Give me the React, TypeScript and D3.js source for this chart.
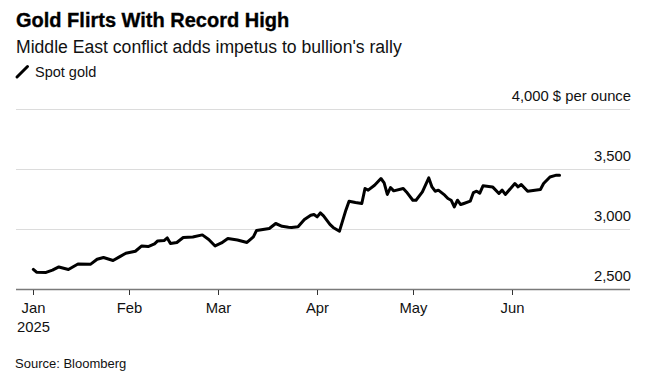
import React from "react";
import * as d3 from "d3";

const dates: string[] = [
  "2025-01-02","2025-01-03","2025-01-06","2025-01-08","2025-01-10","2025-01-13","2025-01-16","2025-01-20","2025-01-22","2025-01-24","2025-01-27","2025-01-29","2025-01-31",
  "2025-02-03","2025-02-05","2025-02-07","2025-02-09","2025-02-10","2025-02-12","2025-02-13","2025-02-14","2025-02-16","2025-02-18","2025-02-21","2025-02-24","2025-02-26","2025-02-28",
  "2025-03-02","2025-03-04","2025-03-07","2025-03-10","2025-03-12","2025-03-13","2025-03-15","2025-03-17","2025-03-19","2025-03-21","2025-03-23","2025-03-24","2025-03-26","2025-03-28","2025-03-30","2025-03-31",
  "2025-04-01","2025-04-02","2025-04-03","2025-04-05","2025-04-06","2025-04-08","2025-04-10","2025-04-11","2025-04-13","2025-04-15","2025-04-16","2025-04-17","2025-04-19","2025-04-21","2025-04-22","2025-04-23","2025-04-24","2025-04-25","2025-04-28","2025-04-29",
  "2025-05-01","2025-05-02","2025-05-04","2025-05-06","2025-05-07","2025-05-08","2025-05-09","2025-05-11","2025-05-12","2025-05-13","2025-05-14","2025-05-15","2025-05-16","2025-05-17","2025-05-19","2025-05-20","2025-05-21","2025-05-22","2025-05-23","2025-05-26","2025-05-28","2025-05-29","2025-05-30",
  "2025-06-02","2025-06-03","2025-06-04","2025-06-06","2025-06-10","2025-06-11","2025-06-13","2025-06-15","2025-06-16",
];

const spotGold: number[] = [
  2667,2644,2642,2661,2688,2667,2713,2711,2752,2767,2742,2772,2802,
  2819,2863,2858,2880,2905,2908,2930,2883,2892,2933,2938,2955,2917,2863,
  2888,2925,2913,2892,2938,2992,3000,3008,3050,3027,3019,3017,3022,3083,3119,3125,
  3105,3138,3113,3042,3017,2986,3161,3236,3225,3217,3342,3328,3369,3425,3388,3292,3350,3322,3342,3313,
  3244,3244,3313,3430,3355,3319,3328,3286,3258,3244,3188,3244,3208,3217,3236,3308,3319,3303,3364,3355,3300,3328,3292,
  3383,3355,3375,3319,3333,3383,3438,3453,3453,
];

const yTicks: number[] = [2500, 3000, 3500, 4000];
const yTickLabels: string[] = ["2,500", "3,000", "3,500", "4,000 $ per ounce"];
const xTickDates: string[] = ["2025-01-02", "2025-02-01", "2025-03-01", "2025-04-01", "2025-05-01", "2025-06-01"];
const xTickLabels: string[] = ["Jan", "Feb", "Mar", "Apr", "May", "Jun"];

const title = "Gold Flirts With Record High";
const subtitle = "Middle East conflict adds impetus to bullion's rally";
const legendLabel = "Spot gold";
const source = "Source: Bloomberg";

const W = 662;
const H = 382;
const FONT = "'Liberation Sans', Arial, Helvetica, sans-serif";

export default function App() {
  const parse = d3.utcParse("%Y-%m-%d");
  const data = dates.map((d, i) => ({ date: parse(d) as Date, value: spotGold[i] }));

  const x = d3
    .scaleUtc()
    .domain([parse("2025-02-01") as Date, parse("2025-06-01") as Date])
    .range([129, 511.7]);
  const y = d3.scaleLinear().domain([2500, 4000]).range([289.5, 109.5]);

  const plotLeft = 16;
  const plotRight = 630;

  const line = d3
    .line<{ date: Date; value: number }>()
    .x((d) => x(d.date))
    .y((d) => y(d.value))
    .curve(d3.curveLinear);

  return (
    <svg
      width={W}
      height={H}
      style={{ position: "absolute", left: 0, top: 0, background: "#fff" }}
      fontFamily={FONT}
    >
      <rect x={0} y={0} width={W} height={H} fill="#fff" />
      <text x={16} y={27} fontSize={20} fontWeight={700} fill="#000" stroke="#000" strokeWidth={0.35}>
        {title}
      </text>
      <text x={16} y={53} fontSize={17.6} fill="#111">
        {subtitle}
      </text>
      <line x1={17} y1={77} x2={27.5} y2={66.5} stroke="#000" strokeWidth={3} strokeLinecap="round" />
      <text x={35} y={77} fontSize={14.5} fill="#111">
        {legendLabel}
      </text>

      {yTicks.map((t, i) =>
        i === 0 ? null : (
          <line key={"g" + t} x1={plotLeft} x2={plotRight} y1={y(t)} y2={y(t)} stroke="#dcdcdc" strokeWidth={1} />
        )
      )}
      {yTicks.map((t, i) => (
        <text key={"yl" + t} x={631} y={y(t) - 9} fontSize={14.8} textAnchor="end" fill="#111">
          {yTickLabels[i]}
        </text>
      ))}

      <path d={line(data) || ""} fill="none" stroke="#000" strokeWidth={3} strokeLinejoin="round" strokeLinecap="round" />

      <line x1={plotLeft} x2={plotRight} y1={289.5} y2={289.5} stroke="#7a7a7a" strokeWidth={1.5} />
      {xTickDates.map((d, i) => {
        const xp = Math.round(x(parse(d) as Date)) + 0.5;
        return (
          <g key={d}>
            <line x1={xp} x2={xp} y1={290} y2={295} stroke="#333" strokeWidth={1} />
            <text x={xp} y={313} fontSize={14.8} textAnchor="middle" fill="#111">
              {xTickLabels[i]}
            </text>
            {i === 0 ? (
              <text x={xp} y={332} fontSize={14.8} textAnchor="middle" fill="#111">
                2025
              </text>
            ) : null}
          </g>
        );
      })}

      <text x={15} y={368} fontSize={13} fill="#111">
        {source}
      </text>
    </svg>
  );
}
